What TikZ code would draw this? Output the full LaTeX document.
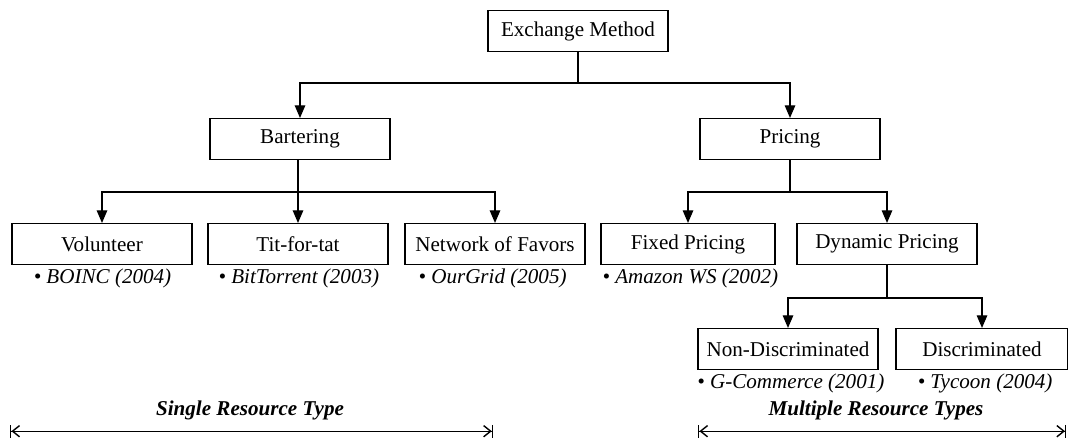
\documentclass[tikz,border=0pt]{standalone}
\usepackage{fontspec}
\setmainfont{Liberation Serif}
\usetikzlibrary{arrows.meta}

\begin{document}
\begin{tikzpicture}[line width=0.9pt,
  >={Triangle[length=9pt,width=7.5pt]},
  font=\fontsize{15}{18}\selectfont]

\tikzstyle{box}=[rectangle,draw,minimum width=4.5cm,minimum height=1.02cm,inner sep=2pt]
\tikzstyle{ex}=[anchor=west,inner sep=0pt,font=\fontsize{15}{18}\selectfont\itshape]
\tikzstyle{span}=[font=\fontsize{15}{18}\selectfont\bfseries\itshape]
\tikzstyle{spanline}=[line width=1pt,{Bar[width=9pt]Straight Barb[length=5pt,width=8pt]}-{Straight Barb[length=5pt,width=8pt]Bar[width=9pt]}]

\useasboundingbox (0,0) rectangle (26.7,-11);

\node[box] (exch)     at (14.45,-0.775) {Exchange Method} ;

\node[box] (barter)   at (7.5,-3.475)   {Bartering} ;
\node[box] (pricing)  at (19.75,-3.475) {Pricing} ;

\node[box] (volunteer) at (2.55,-6.1)   {Volunteer} ;
\node[box] (titfortat) at (7.45,-6.1)   {Tit-for-tat} ;
\node[box] (favors)    at (12.375,-6.1) {Network of Favors} ;
\node[box,minimum width=4.35cm] (fixed)   at (17.2,-6.1)  {Fixed Pricing} ;
\node[box] (dynamic)   at (22.175,-6.1) {Dynamic Pricing} ;

\node[box] (nondisc)   at (19.7,-8.725) {Non-Discriminated} ;
\node[box,minimum width=4.3cm] (disc) at (24.55,-8.725) {Discriminated} ;

% examples
\node[ex] (boinc)  at (0.83,-6.95)  {\textbullet{} BOINC (2004)} ;
\node[ex] (bitt)   at (5.45,-6.95)  {\textbullet{} BitTorrent (2003)} ;
\node[ex] (ourg)   at (10.45,-6.95) {\textbullet{} OurGrid (2005)} ;
\node[ex] (amazon) at (15.05,-6.95) {\textbullet{} Amazon WS (2002)} ;
\node[ex] (gcomm)  at (17.42,-9.58) {\textbullet{} G-Commerce (2001)} ;
\node[ex] (tycoon) at (22.93,-9.58) {\textbullet{} Tycoon (2004)} ;

% junctions
\coordinate (j1) at (14.45,-2.075) ;
\coordinate (j2) at (7.45,-4.8) ;
\coordinate (j3) at (19.75,-4.8) ;
\coordinate (j4) at (22.175,-7.45) ;

\draw (exch) -- (j1) ;
\draw [->] (j1) -| (barter) ;
\draw [->] (j1) -| (pricing) ;

\draw (barter.south -| j2) -- (j2) ;
\draw [->] (j2) -| (volunteer) ;
\draw [->] (j2) -- (titfortat) ;
\draw [->] (j2) -| (favors) ;

\draw (pricing) -- (j3) ;
\draw [->] (j3) -| (fixed) ;
\draw [->] (j3) -| (dynamic) ;

\draw (dynamic) -- (j4) ;
\draw [->] (j4) -| (nondisc) ;
\draw [->] (j4) -| (disc) ;

% resource types
\node[span] (single) at (6.25,-10.25)  {Single Resource Type} ;
\node[span] (multi)  at (21.9,-10.25)  {Multiple Resource Types} ;

\coordinate (sL) at (0.25,-10.78) ;
\coordinate (sR) at (12.33,-10.78) ;
\coordinate (mL) at (17.45,-10.78) ;
\coordinate (mR) at (26.66,-10.78) ;

\draw [spanline] (sL) -- (sR) ;
\draw [spanline] (mL) -- (mR) ;

\end{tikzpicture}
\end{document}
